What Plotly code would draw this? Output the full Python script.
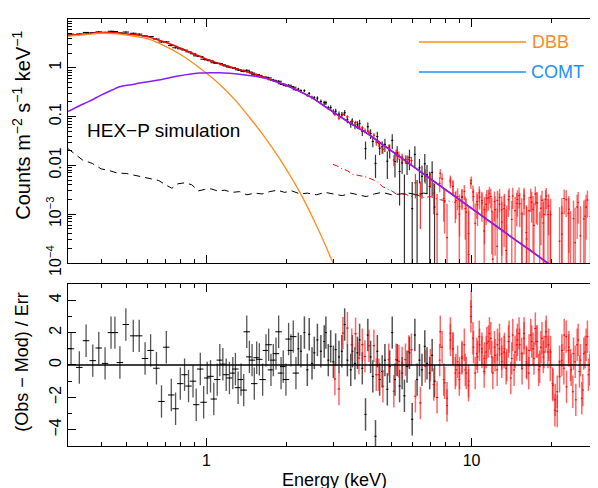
import math
import plotly.graph_objects as go

# ---------------- data ----------------
# total model (red), COMT component (purple), DBB component (orange)
model_E = [0.3, 0.35, 0.4, 0.45, 0.5, 0.55, 0.6, 0.65, 0.7, 0.75, 0.8, 0.9, 1.0, 1.15, 1.33, 1.5,
           1.68, 1.85, 2.0, 2.2, 2.5, 2.75, 3.0, 3.5, 4.0, 4.5, 5.0, 5.5, 6.0, 7.0, 8.0, 9.5,
           11.0, 12.6, 15.0, 17.0, 19.0, 20.0]
model_tot = [4.6, 5.05, 5.3, 5.25, 5.0, 4.7, 4.35, 3.85, 3.35, 2.9, 2.5, 1.95, 1.5, 1.15, 0.93, 0.76,
             0.62, 0.52, 0.44, 0.35, 0.245, 0.172, 0.125, 0.072, 0.047, 0.0297, 0.0197, 0.0136, 0.0097,
             0.0053, 0.00315, 0.00161, 0.00091, 0.000535, 0.000271, 0.00017, 0.000108, 0.000088]

comt_E = [0.3, 0.33, 0.36, 0.4, 0.44, 0.47, 0.52, 0.56, 0.62, 0.67, 0.73, 0.79, 0.86, 0.94, 1.03,
          1.12, 1.22, 1.33, 1.5, 1.68, 1.85, 2.0, 2.2, 2.5, 2.75, 3.0, 3.5, 4.0, 4.5, 5.0, 5.5, 6.0,
          7.0, 8.0, 9.5, 11.0, 12.6, 15.0, 17.0, 19.0, 20.0]
comt_val = [0.127, 0.165, 0.205, 0.275, 0.35, 0.41, 0.45, 0.487, 0.53, 0.57, 0.63, 0.685, 0.74, 0.78,
            0.795, 0.79, 0.77, 0.74, 0.68, 0.60, 0.51, 0.44, 0.345, 0.244, 0.172, 0.125, 0.072, 0.047,
            0.0297, 0.0197, 0.0136, 0.0097, 0.0053, 0.00315, 0.00161, 0.00091, 0.000535, 0.000271,
            0.00017, 0.000108, 0.000088]

dbb_E = [0.3, 0.35, 0.4, 0.45, 0.5, 0.6, 0.7, 0.8, 0.9, 1.0, 1.1, 1.2, 1.3, 1.45, 1.6, 1.8, 2.0,
         2.25, 2.5, 2.75, 3.0]
dbb_val = [4.45, 4.8, 5.1, 5.0, 4.65, 3.9, 2.75, 1.85, 1.2, 0.77, 0.5, 0.32, 0.2, 0.097, 0.049,
           0.020, 0.0083, 0.0028, 0.00091, 0.0003, 0.0001]

# backgrounds
bkg1_E = [0.3, 0.32, 0.34, 0.37, 0.40, 0.43, 0.46, 0.50, 0.54, 0.58, 0.62, 0.66, 0.70, 0.74, 0.78,
          0.83, 0.88, 0.93, 0.98, 1.04, 1.10, 1.17, 1.25, 1.33, 1.42, 1.52, 1.62, 1.73, 1.85, 1.97,
          2.1, 2.25, 2.4, 2.6, 2.8, 3.0, 3.25, 3.5, 3.75, 4.0, 4.3, 4.6, 5.0, 5.4, 5.8, 6.2, 6.6, 7.0]
bkg1_val = [0.022, 0.017, 0.013, 0.011, 0.0085, 0.0078, 0.0070, 0.0068, 0.0062, 0.0058, 0.0052,
            0.0049, 0.0040, 0.0034, 0.0042, 0.0044, 0.0040, 0.0030, 0.0032, 0.0033, 0.0030, 0.0031,
            0.0028, 0.0029, 0.0025, 0.0027, 0.0026, 0.0029, 0.0031, 0.0028, 0.0030, 0.0026, 0.0027,
            0.0025, 0.0028, 0.0026, 0.0024, 0.0027, 0.0025, 0.0023, 0.0026, 0.0028, 0.0025, 0.0026,
            0.0027, 0.0025, 0.0027, 0.0026]
bkg2_E = [3.0, 3.1, 3.25, 3.4, 3.55, 3.7, 3.85, 4.0, 4.2, 4.4, 4.6, 4.8, 5.0, 5.3, 5.6, 5.9, 6.2,
          6.6, 7.0, 7.5, 8.0, 8.5]
bkg2_val = [0.0105, 0.0098, 0.0085, 0.0078, 0.0066, 0.0063, 0.0060, 0.0058, 0.0052, 0.0047, 0.0037,
            0.0033, 0.0030, 0.0024, 0.0026, 0.0023, 0.0025, 0.0022, 0.0023, 0.0020, 0.0019, 0.0018]

# black data set (soft instrument)
b_E_soft = [0.308, 0.331, 0.351, 0.372, 0.392, 0.414, 0.436, 0.451, 0.471, 0.496, 0.529, 0.557,
            0.586, 0.615, 0.647, 0.676, 0.705, 0.736, 0.764, 0.796, 0.826, 0.855, 0.889, 0.914,
            0.947, 0.975, 1.006, 1.035, 1.065, 1.097, 1.122, 1.152, 1.186, 1.220, 1.256, 1.285,
            1.315, 1.349, 1.381, 1.418, 1.451, 1.485, 1.514, 1.546, 1.582, 1.628, 1.676, 1.715,
            1.750, 1.786, 1.828, 1.871, 1.910, 1.947, 1.993, 2.040, 2.081, 2.124, 2.174]
b_C_soft = [4.9, 4.93, 5.3, 5.25, 5.45, 5.32, 5.6, 5.55, 5.18, 5.4, 5.1, 4.9, 4.5, 4.36, 3.88, 3.38,
            3.4, 2.85, 2.57, 2.45, 2.31, 2.12, 1.94, 1.76, 1.71, 1.5, 1.45, 1.39, 1.27, 1.24, 1.22,
            1.15, 1.09, 1.03, 1.0, 0.97, 0.91, 0.89, 0.84, 0.89, 0.82, 0.78, 0.72, 0.73, 0.70, 0.64,
            0.64, 0.62, 0.57, 0.555, 0.53, 0.53, 0.47, 0.46, 0.43, 0.44, 0.41, 0.40, 0.355]
b_rel_soft = [0.025, 0.025, 0.025, 0.025, 0.025, 0.025, 0.025, 0.025, 0.025, 0.025, 0.027, 0.027,
              0.027, 0.028, 0.028, 0.029, 0.029, 0.03, 0.03, 0.03, 0.031, 0.031, 0.032, 0.032,
              0.033, 0.033, 0.034, 0.034, 0.035, 0.035, 0.036, 0.036, 0.037, 0.037, 0.038, 0.038,
              0.039, 0.039, 0.04, 0.04, 0.041, 0.041, 0.042, 0.042, 0.043, 0.043, 0.044, 0.044,
              0.045, 0.045, 0.046, 0.046, 0.047, 0.048, 0.049, 0.05, 0.052, 0.054, 0.056]
b_res_soft = [1.0, -0.15, 1.5, 0.27, 1.05, 0.1, 2.0, 2.0, 0.15, 2.5, 1.8, 1.8, 0.4, 0.9, -0.2, -2.25,
              1.1, -1.85, -2.7, -1.15, -0.6, -1.3, -1.0, -2.45, -0.25, -2.3, -0.8, -0.7, -2.1, -0.9,
              0.3, 0.05, -0.6, -0.8, -0.5, -0.25, -1.4, -0.9, -1.55, 2.05, 0.5, 0.3, -1.15, 0.45,
              0.35, -0.9, 0.9, 1.25, -0.3, 0.3, 0.7, 2.05, -0.5, -0.1, -0.9, 1.6, 0.9, 1.75, -0.5]

b_E_hard = [2.22, 2.27, 2.34, 2.40, 2.44, 2.50, 2.55, 2.62, 2.70, 2.78, 2.82, 2.88, 2.94, 3.01, 3.07,
            3.16, 3.24, 3.32, 3.40, 3.50, 3.55, 3.63, 3.71, 3.78, 3.87, 3.98, 4.06, 4.16, 4.24, 4.34,
            4.41, 4.50, 4.60, 4.71, 4.81, 4.91, 5.02, 5.14, 5.24, 5.35, 5.47, 5.58, 5.71, 5.83, 5.97,
            6.11, 6.23, 6.36, 6.50, 6.66, 6.79, 6.95, 7.10, 7.25]
b_C_hard = [0.366, 0.342, 0.34, 0.274, 0.30, 0.247, 0.244, 0.239, 0.205, 0.192, 0.192, 0.152, 0.154,
            0.127, 0.129, 0.112, 0.109, 0.12, 0.086, 0.070, 0.080, 0.066, 0.068, 0.072, 0.050, 0.022,
            0.062, 0.045, 0.031, 0.011, 0.039, 0.0225, 0.024, 0.027, 0.0122, 0.0203, 0.0326, 0.012,
            0.018, 0.0075, 0.0112, 0.0026, 0.0112, 0.0145, 0.0013, 0.0168, 0.0025, 0.0089, 0.006,
            0.0108, 0.0064, 0.0037, 0.0072, 0.0014]
b_rel_hard = [0.06, 0.06, 0.065, 0.07, 0.07, 0.08, 0.08, 0.09, 0.09, 0.1, 0.1, 0.1, 0.11, 0.12, 0.12,
              0.13, 0.14, 0.14, 0.15, 0.16, 0.16, 0.17, 0.18, 0.19, 0.2, 0.4, 0.22, 0.23, 0.24, 0.5,
              0.26, 0.27, 0.28, 0.3, 0.57, 0.32, 0.34, 0.53, 0.37, 0.8, 0.4, 1.5, 0.43, 0.45, 2.5,
              0.47, 1.0, 0.52, 0.65, 0.58, 0.6, 1.0, 0.68, 2.0]
b_res_hard = [1.0, 0.85, 2.0, -0.3, 1.9, 0.1, 0.75, 1.55, 0.85, 1.45, 2.0, 0.3, 1.15, 0.2, 0.95,
              0.5, 0.85, 2.5, 0.3, -0.3, 0.85, 0.1, 0.75, 1.55, -0.2, -3.05, 1.85, 0.5, -0.7, -4.4,
              0.85, -0.9, -0.4, 0.3, -1.5, -0.1, 2.0, -0.9, 0.3, -1.3, -0.5, -1.9, -0.1, 0.75, -3.35,
              1.85, -0.9, 0.3, -0.3, 1.15, 0.1, -0.5, 0.6, -1.0]

# red data set (hard instrument)
r_E_lo = [3.05, 3.16, 3.27, 3.40, 3.53, 3.65, 3.76, 3.87, 3.96, 4.10, 4.28, 4.37, 4.47, 4.63, 4.87,
          5.09, 5.19, 5.32, 5.47, 5.63, 5.80, 5.93, 6.14, 6.41, 6.69, 6.99, 7.20, 7.41]
r_C_lo = [0.111, 0.093, 0.111, 0.099, 0.081, 0.076, 0.061, 0.059, 0.051, 0.048, 0.0416, 0.030,
          0.028, 0.0214, 0.023, 0.0129, 0.018, 0.0161, 0.0144, 0.0133, 0.0132, 0.0125, 0.0044,
          0.0026, 0.0062, 0.0053, 0.0027, 0.0010]
r_err_lo = [0.0095, 0.0084, 0.0085, 0.0074, 0.0072, 0.0064, 0.0064, 0.0057, 0.0058, 0.005, 0.0047,
            0.0046, 0.0043, 0.004, 0.0037, 0.0033, 0.0032, 0.0031, 0.0029, 0.0027, 0.0026, 0.0025,
            0.0023, 0.0021, 0.002, 0.0018, 0.0017, 0.0016]
r_res_lo = [-0.86, -1.48, 1.97, 2.28, 1.25, 1.93, 0.43, 1.25, 0.53, 1.19, 1.19, -0.6, -0.6, -1.31,
            0.33, -1.62, 0.33, 0.23, 0.12, 0.33, 0.84, 0.94, -1.93, -2.34, -0.08, 0.0, -1.2, -2.0]

r_E_hi = [7.62, 7.85, 8.08, 8.32, 8.51, 8.73, 8.99, 9.20, 9.47, 9.74, 9.97, 10.17, 10.47, 10.69,
          10.94, 11.19, 11.42, 11.68, 11.92, 12.20, 12.49, 12.75, 13.00, 13.31, 13.58, 13.86, 14.18,
          14.47, 14.81, 15.11, 15.46, 15.78, 16.14, 16.48, 16.86, 17.20, 17.55, 17.91, 18.27, 18.65,
          19.03, 19.42, 19.82, 20.22, 20.63, 21.05, 21.48, 21.92, 22.37, 22.82, 23.29, 23.76, 24.25,
          24.74, 25.25, 25.76, 26.29, 26.83, 27.37, 27.93, 28.50, 29.08, 29.7]
r_C_hi = [0.0069, 0.0021, 0.00033, 0.0046, 0.0037, 0.0019, 0.0010, 0.0023, 0.0013, 0.0004, 0.0049,
          0.0023, 0.0018, 0.00275, 0.0017, 0.00124, 0.00212, 0.00265, 0.00115, 0.00181, 0.00022,
          0.0022, 0.00124, 0.00153, 0.0004, 0.0023, 0.00078, -0.00003, 0.00166, 0.00241, 0.00101,
          0.00204, 0.00031, 0.00117, 0.00177, 0.00059, 0.00174, -0.0002, 0.00133, 0.00066, 0.00203,
          0.00098, 0.000088, -0.00119, -0.00301, -0.00175, -0.00071, 0.00039, 0.00209, -0.00144,
          0.00126, -0.00029, 0.00081, -0.0023, 0.00174, 0.00036, -0.0017, 0.00091, 0.00195, -0.00031,
          0.00123, -0.00075, 0.00134]
r_err_hi = [0.0015, 0.0014, 0.0013, 0.0012, 0.0012, 0.0011, 0.0011, 0.001, 0.001, 0.001, 0.001, 0.001,
            0.001, 0.001, 0.001, 0.001, 0.001, 0.001, 0.001, 0.0011, 0.0011, 0.0011, 0.0011, 0.0011,
            0.0011, 0.0011, 0.0011, 0.0011, 0.0011, 0.0011, 0.0011, 0.0011, 0.0011, 0.0011, 0.0011,
            0.0011, 0.0011, 0.0011, 0.0011, 0.0011, 0.0011, 0.0011, 0.0011, 0.0011, 0.0011, 0.0011,
            0.0011, 0.0011, 0.0011, 0.0011, 0.0011, 0.0011, 0.0011, 0.0011, 0.0011, 0.0011, 0.0011,
            0.0011, 0.0011, 0.0011, 0.0011, 0.0011, 0.0011]
r_res_hi = [2.05, -0.9, -2.05, 1.55, 1.0, -0.3, -0.9, 0.5, -0.3, -1.0, 3.6, 1.1, 0.7, 1.75, 0.8, 0.4,
            1.35, 1.95, 0.5, 1.1, -0.3, 1.55, 0.7, 1.0, 0.0, 1.75, 0.4, -0.3, 1.25, 1.95, 0.7, 1.65,
            0.1, 0.9, 1.45, 0.4, 1.45, -0.3, 1.1, 0.5, 1.75, 0.8, 0.0, -1.15, -2.8, -1.65, -0.7, 0.3,
            1.85, -1.35, 1.1, -0.3, 0.7, -2.15, 1.55, 0.3, -1.55, 0.8, 1.75, -0.3, 1.1, -0.7, 1.2]

r_E_hi2 = [7.58, 7.74, 7.91, 8.08, 8.32, 8.51, 8.68, 8.86, 9.01, 9.20, 9.39, 9.55, 9.74, 9.94, 10.12,
           10.32, 10.53, 10.72, 10.94, 11.16, 11.35, 11.58, 11.82, 12.03, 12.27, 12.52, 12.74, 13.00,
           13.27, 13.50, 13.78, 14.06, 14.30, 14.60, 14.90, 15.20, 15.51, 15.78, 16.10, 16.43, 16.72,
           17.06, 17.40, 17.71, 18.07, 18.44, 18.76, 19.14, 19.53, 19.87, 20.28, 20.69, 21.05, 21.48,
           21.92, 22.30, 22.76, 23.22, 23.63, 24.11, 24.60, 25.03, 25.54, 26.06, 26.52, 27.06, 27.61,
           28.09, 28.67, 29.25]
r_C_hi2 = [0.0043, 0.0053, 0.0018, -0.00025, 0.0050, 0.0037, 0.00175, 0.0023, 0.00145, 0.0022,
           0.00295, 0.0011, 0.00015, 0.0043, 0.00285, 0.00065, 0.00157, 0.00225, 0.0019, 0.00045,
           0.0016, 0.00218, 0.00232, 0.00012, 0.00124, 0.00192, 0.0016, 0.00069, 0.00131, 0.00018,
           0.00198, -0.00053, 0.00237, 0.00118, 0.00199, 0.00164, 0.00002, 0.00237, 0.00042, -0.00036,
           0.00221, 0.00126, 0.0026, 0.0017, 0.00002, 0.00194, 0.00099, 0.00236, 0.00147, 0.00097,
           -0.0013, -0.00229, -0.00307, 0.00028, 0.00105, -0.00017, 0.00198, 0.00104, 0.000043, -0.0018,
           0.00026, 0.00141, -0.00041, -0.00223, 0.0008, 0.0014, -0.00064, 0.0009, -0.00097, -0.0002]
r_err_hi2 = [0.0015, 0.0015, 0.0014, 0.0013, 0.0012, 0.0012, 0.0011, 0.0011, 0.0011, 0.001, 0.001,
             0.001, 0.001, 0.001, 0.001, 0.001, 0.001, 0.001, 0.001, 0.001, 0.001, 0.001, 0.001, 0.001,
             0.0011, 0.0011, 0.0011, 0.0011, 0.0011, 0.0011, 0.0011, 0.0011, 0.0011, 0.0011, 0.0011,
             0.0011, 0.0011, 0.0011, 0.0011, 0.0011, 0.0011, 0.0011, 0.0011, 0.0011, 0.0011, 0.0011,
             0.0011, 0.0011, 0.0011, 0.0011, 0.0011, 0.0011, 0.0011, 0.0011, 0.0011, 0.0011, 0.0011,
             0.0011, 0.0011, 0.0011, 0.0011, 0.0011, 0.0011, 0.0011, 0.0011, 0.0011, 0.0011, 0.0011,
             0.0011, 0.0011]
r_res_hi2 = [0.3, 1.1, -1.1, -2.5, 1.95, 1.0, -0.5, 0.2, -0.5, 0.4, 1.25, -0.5, -1.25, 3.0, 1.65,
             -0.5, 0.5, 1.25, 1.0, -0.4, 0.8, 1.45, 1.65, -0.5, 0.6, 1.25, 1.0, 0.2, 0.8, -0.2, 1.45,
             -0.8, 1.85, 0.8, 1.55, 1.25, -0.2, 1.95, 0.2, -0.5, 1.85, 1.0, 2.25, 1.45, -0.1, 1.65,
             0.8, 2.05, 1.25, 0.8, -1.25, -2.15, -2.85, 0.2, 0.9, -0.2, 1.75, 0.9, 0.0, -1.65, 0.2,
             1.25, -0.4, -2.05, 0.7, 1.25, -0.6, 0.8, -0.9, -0.2]

y_ticks_top = [1e-4, 1e-3, 0.01, 0.1, 1, 10]
y_ticktext_top = ["10<sup>−4</sup>", "10<sup>−3</sup>", "0.01", "0.1", "1", "10"]
x_ticks = [1, 10]
x_ticktext = ["1", "10"]
res_ticks = [-4, -2, 0, 2, 4]
res_ticktext = ["−4", "−2", "0", "2", "4"]

# ---------------- styling ----------------
FONT = "Liberation Sans, Arial, Helvetica, sans-serif"
ORANGE = "#ff8c1a"
PURPLE = "#8a1cff"
RED = "#ff0000"
BLUE = "#1e90ff"
RED_BAR = "rgba(255,20,20,0.65)"

fig = go.Figure()


def data_trace(x, y, err, xpct, ycol, xcol, xa, ya, thick=1.0):
    return go.Scatter(
        x=x, y=y, xaxis=xa, yaxis=ya, mode="markers",
        marker=dict(size=1, color=xcol),
        error_y=dict(type="data", array=err, color=ycol, thickness=thick, width=0),
        error_x=dict(type="percent", value=xpct, color=xcol, thickness=1, width=0),
        showlegend=False, hoverinfo="skip")


def resid_trace(x, y, xpct, ycol, xcol, thick=1.4):
    return go.Scatter(
        x=x, y=y, xaxis="x2", yaxis="y2", mode="markers",
        marker=dict(size=1, color=xcol),
        error_y=dict(type="constant", value=1, color=ycol, thickness=thick, width=0),
        error_x=dict(type="percent", value=xpct, color=xcol, thickness=1, width=0),
        showlegend=False, hoverinfo="skip")


b_err_soft = [c * r for c, r in zip(b_C_soft, b_rel_soft)]
b_err_hard = [c * r for c, r in zip(b_C_hard, b_rel_hard)]

# top panel data
fig.add_trace(data_trace(b_E_soft, b_C_soft, b_err_soft, 2.8, "black", "black", "x", "y"))
fig.add_trace(data_trace(b_E_hard, b_C_hard, b_err_hard, 0.9, "#333333", "black", "x", "y", 1.2))
fig.add_trace(data_trace(r_E_lo, r_C_lo, r_err_lo, 1.0, "rgba(255,0,0,0.8)", RED, "x", "y", 1.2))
fig.add_trace(data_trace(r_E_hi, r_C_hi, r_err_hi, 0.8, RED_BAR, RED, "x", "y", 1.4))
fig.add_trace(data_trace(r_E_hi2, r_C_hi2, r_err_hi2, 0.8, RED_BAR, RED, "x", "y", 1.4))

# backgrounds
fig.add_trace(go.Scatter(x=bkg1_E, y=bkg1_val, mode="lines",
                         line=dict(color="black", width=1, dash="7px,5px"),
                         showlegend=False, hoverinfo="skip"))
fig.add_trace(go.Scatter(x=bkg2_E, y=bkg2_val, mode="lines",
                         line=dict(color=RED, width=1, dash="6px,3px,1px,3px"),
                         showlegend=False, hoverinfo="skip"))

# models
fig.add_trace(go.Scatter(x=model_E, y=model_tot, mode="lines", line=dict(color=RED, width=1.5),
                         showlegend=False, hoverinfo="skip"))
fig.add_trace(go.Scatter(x=dbb_E, y=dbb_val, mode="lines",
                         line=dict(color=ORANGE, width=1.3, shape="spline"),
                         showlegend=False, hoverinfo="skip"))
fig.add_trace(go.Scatter(x=comt_E, y=comt_val, mode="lines",
                         line=dict(color=PURPLE, width=1.5, shape="spline"),
                         showlegend=False, hoverinfo="skip"))

# residuals
fig.add_trace(resid_trace(b_E_soft, b_res_soft, 2.8, "#555555", "black", 1.3))
fig.add_trace(resid_trace(b_E_hard, b_res_hard, 0.9, "#555555", "black", 1.5))
fig.add_trace(resid_trace(r_E_lo, r_res_lo, 1.0, RED_BAR, RED, 1.5))
fig.add_trace(resid_trace(r_E_hi, r_res_hi, 0.8, RED_BAR, RED, 1.5))
fig.add_trace(resid_trace(r_E_hi2, r_res_hi2, 0.8, RED_BAR, RED, 1.5))

axis_common = dict(showline=True, linecolor="black", linewidth=1, mirror="allticks", ticks="inside",
                   tickcolor="black", showgrid=False, zeroline=False, automargin=False,
                   tickfont=dict(family=FONT, size=16, color="black"))

minor_x = [m / 10 for m in range(3, 10)] + [float(m) for m in range(2, 10)] + [20.0, 30.0]
minor_y = [m * 10 ** k for k in range(-4, 1) for m in range(2, 10)]

# the page body adds an 8 px offset; margins are chosen so that the plot frame lands at
# x 68..598, y 19..446 in the browser window
fig.update_layout(
    width=598, height=488,
    margin=dict(l=60, r=8, t=11, b=50, autoexpand=False),
    paper_bgcolor="white", plot_bgcolor="white",
    font=dict(family=FONT, size=16, color="black"),
    xaxis=dict(axis_common, type="log", range=[math.log10(0.3), math.log10(30)], domain=[0, 1],
               anchor="y", tickvals=x_ticks, ticktext=x_ticktext, showticklabels=False, ticklen=8,
               minor=dict(ticks="inside", ticklen=4, tickvals=minor_x, tickcolor="black")),
    xaxis2=dict(axis_common, type="log", range=[math.log10(0.3), math.log10(30)], domain=[0, 1],
                anchor="y2", tickvals=x_ticks, ticktext=x_ticktext, ticklen=8,
                minor=dict(ticks="inside", ticklen=4, tickvals=minor_x, tickcolor="black")),
    yaxis=dict(axis_common, type="log", range=[-4, 1], domain=[0.4286, 1], anchor="x",
               tickvals=y_ticks_top, ticktext=y_ticktext_top, tickangle=-90, ticklen=8,
               minor=dict(ticks="inside", ticklen=4, tickvals=minor_y, tickcolor="black")),
    yaxis2=dict(axis_common, range=[-5, 5], domain=[0, 0.3794], anchor="x2",
                tickvals=res_ticks, ticktext=res_ticktext, tickangle=-90, ticklen=8,
                minor=dict(ticks="inside", ticklen=4, dtick=1, tickcolor="black")),
)

# zero line in residual panel
fig.add_shape(type="line", xref="x2 domain", yref="y2", x0=0, x1=1, y0=0, y1=0,
              line=dict(color="black", width=1.3))

# legend (manual, as in the original)
fig.add_shape(type="line", xref="paper", yref="paper", x0=0.6623, x1=0.8642, y0=0.9461, y1=0.9461,
              line=dict(color=ORANGE, width=1.3))
fig.add_shape(type="line", xref="paper", yref="paper", x0=0.6623, x1=0.8642, y0=0.8759, y1=0.8759,
              line=dict(color=BLUE, width=1.3))
fig.add_annotation(text="DBB", xref="paper", yref="paper", x=0.872, y=0.9461, xanchor="left",
                   yanchor="middle", showarrow=False, font=dict(family=FONT, size=18, color=ORANGE))
fig.add_annotation(text="COMT", xref="paper", yref="paper", x=0.870, y=0.8759, xanchor="left",
                   yanchor="middle", showarrow=False, font=dict(family=FONT, size=18, color=BLUE))

fig.add_annotation(text="HEX−P simulation", xref="paper", yref="paper", x=0.032, y=0.740,
                   xanchor="left", yanchor="middle", showarrow=False,
                   font=dict(family=FONT, size=19, color="black"))

# axis titles
fig.add_annotation(text="Counts m<sup>−2</sup> s<sup>−1</sup> keV<sup>−1</sup>", xref="paper",
                   yref="paper", x=-0.087, y=0.752, textangle=-90, xanchor="center",
                   yanchor="middle", showarrow=False, font=dict(family=FONT, size=20, color="black"))
fig.add_annotation(text="(Obs − Mod) / Err", xref="paper", yref="paper",
                   x=-0.087, y=0.197, textangle=-90, xanchor="center", yanchor="middle",
                   showarrow=False, font=dict(family=FONT, size=18, color="black"))
fig.add_annotation(text="Energy (keV)", xref="paper", yref="paper", x=0.503, y=-0.080,
                   xanchor="center", yanchor="middle", showarrow=False,
                   font=dict(family=FONT, size=18, color="black"))

fig.write_html("out.html")
